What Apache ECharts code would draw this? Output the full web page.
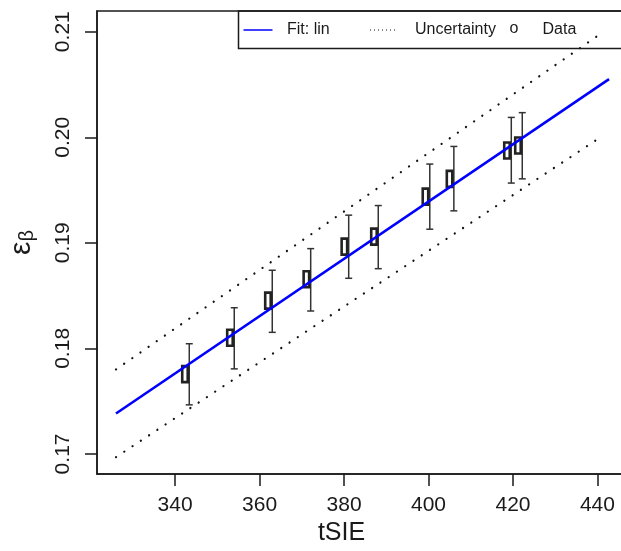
<!DOCTYPE html>
<html>
<head>
<meta charset="utf-8">
<script src="https://cdn.jsdelivr.net/npm/echarts@6/dist/echarts.min.js"></script>
<style>
  html, body { margin: 0; padding: 0; background: #fff; }
  #chart { width: 621px; height: 551px; }
</style>
</head>
<body>
<div id="chart"></div>
<script>
// measured points (tSIE vs efficiency) with error bars
const xData = [343.35, 354.0, 363.0, 372.1, 381.1, 388.1, 400.3, 406.0, 419.6, 422.2]
const yData = [0.17756, 0.1810, 0.18452, 0.18655, 0.18964, 0.19059, 0.19438, 0.19606, 0.19875, 0.19922]
const errTop = [0.18044, 0.18385, 0.1874, 0.18945, 0.19262, 0.19353, 0.19746, 0.19913, 0.20188, 0.20233]
const errBottom = [0.17465, 0.17806, 0.18152, 0.18354, 0.18664, 0.18755, 0.19129, 0.19303, 0.19566, 0.19606]

// linear fit and its uncertainty band (end points)
const fitX = [326.0, 442.75]
const fitY = [0.17383, 0.2055]
const bandX = [326.0, 441.1]
const bandUpper = [0.17801, 0.2099]
const bandLower = [0.1697, 0.2001]

// axis ticks
const xTicks = [340, 360, 380, 400, 420, 440]
const yTicks = [0.17, 0.18, 0.19, 0.20, 0.21]

const FONT = '"Liberation Sans", Arial, sans-serif'
const INK = '#1a1a1a'

const chart = echarts.init(document.getElementById('chart'))

const pts = xData.map((x, i) => [x, yData[i]])
const bars = xData.map((x, i) => [x, errBottom[i], errTop[i]])
const pair = (xs, ys) => xs.map((x, i) => [x, ys[i]])

const option = {
    animation: false,
    backgroundColor: '#fff',
    grid: {
        left: 97,
        top: 11,
        right: -6,
        bottom: 77,
        outerBoundsMode: 'none',
        containLabel: false,
        show: true,
        borderColor: INK,
        borderWidth: 1.5,
    },
    xAxis: {
        type: 'value',
        min: 321.5,
        max: 447,
        splitLine: { show: false },
        axisLine: { show: true, lineStyle: { color: INK, width: 1.5 } },
        axisTick: {
            show: true,
            length: 12,
            customValues: xTicks,
            lineStyle: { color: INK, width: 1.5 },
        },
        axisLabel: {
            customValues: xTicks,
            margin: 21,
            color: INK,
            fontSize: 21,
            fontFamily: FONT,
        },
        name: 'tSIE',
        nameLocation: 'middle',
        nameGap: 47,
        nameTextStyle: {
            color: INK,
            fontSize: 25,
            fontFamily: FONT,
            padding: [0, 41, 0, 0],
        },
    },
    yAxis: {
        type: 'value',
        min: 0.1681,
        max: 0.21196,
        splitLine: { show: false },
        axisLine: { show: true, lineStyle: { color: INK, width: 1.5 } },
        axisTick: {
            show: true,
            length: 12,
            customValues: yTicks,
            lineStyle: { color: INK, width: 1.5 },
        },
        axisLabel: {
            customValues: yTicks,
            rotate: 90,
            margin: 23,
            color: INK,
            fontSize: 21,
            fontFamily: FONT,
            formatter: (v) => v.toFixed(2),
        },
        name: '{e|ε}{s|β}',
        nameLocation: 'middle',
        nameRotate: 90,
        nameGap: 60,
        nameTextStyle: {
            color: INK,
            fontFamily: FONT,
            rich: {
                e: { fontSize: 30, fontFamily: FONT, color: INK, verticalAlign: 'top', lineHeight: 30 },
                s: { fontSize: 20, fontFamily: FONT, color: INK, verticalAlign: 'bottom', lineHeight: 20, padding: [16, 0, 0, 0] },
            },
        },
    },
    series: [
        {
            name: 'Uncertainty',
            type: 'line',
            data: pair(bandX, bandUpper),
            symbol: 'none',
            lineStyle: { color: '#111', width: 2.2, type: [0.1, 9.8], cap: 'round' },
        },
        {
            name: 'Uncertainty',
            type: 'line',
            data: pair(bandX, bandLower),
            symbol: 'none',
            lineStyle: { color: '#111', width: 2.2, type: [0.1, 9.8], cap: 'round' },
        },
        {
            name: 'err',
            type: 'custom',
            data: bars,
            renderItem: (params, api) => {
                const lo = api.coord([api.value(0), api.value(1)])
                const hi = api.coord([api.value(0), api.value(2)])
                const w = 3.5
                const style = { stroke: '#333', lineWidth: 1.5 }
                return {
                    type: 'group',
                    children: [
                        { type: 'line', shape: { x1: lo[0], y1: lo[1], x2: hi[0], y2: hi[1] }, style },
                        { type: 'line', shape: { x1: lo[0] - w, y1: lo[1], x2: lo[0] + w, y2: lo[1] }, style },
                        { type: 'line', shape: { x1: hi[0] - w, y1: hi[1], x2: hi[0] + w, y2: hi[1] }, style },
                    ],
                }
            },
            z: 3,
        },
        {
            // the point glyph is drawn a little to the left of its error bar
            name: 'Data',
            type: 'custom',
            data: pts,
            renderItem: (params, api) => {
                const c = api.coord([api.value(0), api.value(1)])
                const w = 5.5, h = 16
                return {
                    type: 'rect',
                    shape: { x: c[0] - 4.3 - w / 2, y: c[1] - h / 2, width: w, height: h },
                    style: { fill: 'none', stroke: '#222', lineWidth: 2.6 },
                }
            },
            z: 4,
        },
        {
            name: 'Fit: lin',
            type: 'line',
            data: pair(fitX, fitY),
            symbol: 'none',
            lineStyle: { color: '#0000ff', width: 2.6 },
            z: 6,
        },
    ],
    graphic: [
        {
            type: 'rect',
            shape: { x: 238.5, y: 11, width: 420, height: 37.5 },
            style: { fill: 'none', stroke: INK, lineWidth: 1.5 },
            z: 10,
        },
        {
            type: 'line',
            shape: { x1: 243.5, y1: 30, x2: 272.5, y2: 30 },
            style: { stroke: '#0000ff', lineWidth: 1.5 },
            z: 10,
        },
        {
            type: 'text',
            x: 287, y: 30,
            style: { text: 'Fit: lin', font: '16px ' + FONT, fill: INK, verticalAlign: 'middle' },
            z: 10,
        },
        {
            type: 'line',
            shape: { x1: 370, y1: 30, x2: 397, y2: 30 },
            style: { stroke: '#111', lineWidth: 1, lineDash: [1, 3] },
            z: 10,
        },
        {
            type: 'text',
            x: 415, y: 30,
            style: { text: 'Uncertainty', font: '16px ' + FONT, fill: INK, verticalAlign: 'middle' },
            z: 10,
        },
        {
            type: 'text',
            x: 509.5, y: 29,
            style: { text: 'o', font: '16px ' + FONT, fill: INK, verticalAlign: 'middle' },
            z: 10,
        },
        {
            type: 'text',
            x: 542.5, y: 30,
            style: { text: 'Data', font: '16px ' + FONT, fill: INK, verticalAlign: 'middle' },
            z: 10,
        },
    ],
}

chart.setOption(option)
</script>
</body>
</html>
